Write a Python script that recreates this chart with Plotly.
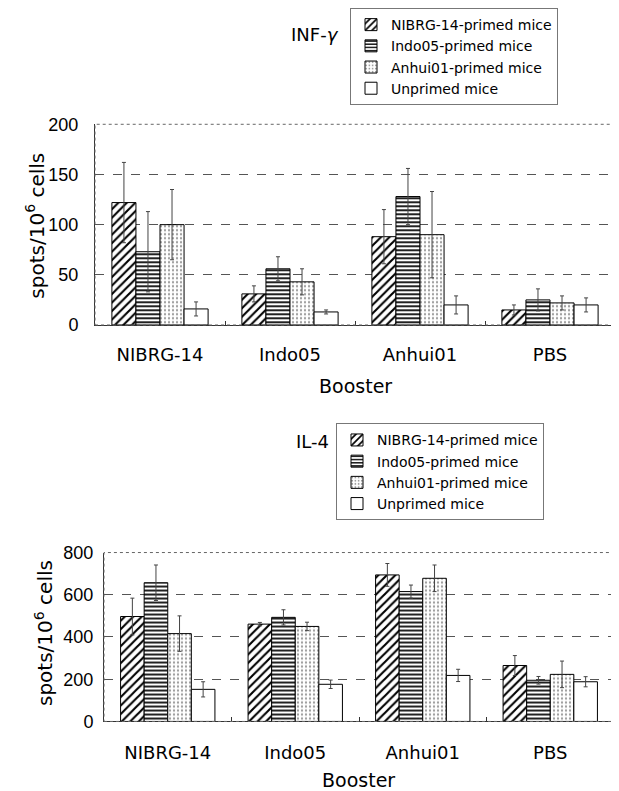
import plotly.graph_objects as go

boosters = ["NIBRG-14", "Indo05", "Anhui01", "PBS"]
series_names = ["NIBRG-14-primed mice", "Indo05-primed mice", "Anhui01-primed mice", "Unprimed mice"]

# INF-gamma (spots/10^6 cells)
ifn_nibrg = [122, 31, 88, 15]
ifn_indo = [73, 56, 128, 25]
ifn_anhui = [100, 43, 90, 22]
ifn_unprimed = [16, 13, 20, 20]
ifn_nibrg_err = [40, 8, 27, 5]
ifn_indo_err = [40, 12, 28, 11]
ifn_anhui_err = [35, 13, 43, 7]
ifn_unprimed_err = [7, 2, 9, 7]

# IL-4 (spots/10^6 cells)
il4_nibrg = [497, 461, 694, 265]
il4_indo = [657, 493, 615, 195]
il4_anhui = [416, 450, 678, 223]
il4_unprimed = [152, 176, 218, 188]
il4_nibrg_err = [87, 8, 54, 47]
il4_indo_err = [84, 36, 31, 18]
il4_anhui_err = [84, 20, 63, 63]
il4_unprimed_err = [36, 20, 29, 24]

ifn_ticks = [0, 50, 100, 150, 200]
il4_ticks = [0, 200, 400, 600, 800]

patterns = [
    dict(shape="/", fgcolor="black", bgcolor="white", size=6, solidity=0.35),
    dict(shape="-", fgcolor="#222222", bgcolor="white", size=4, solidity=0.5),
    dict(shape=".", fgcolor="#9a9a9a", bgcolor="white", size=4, solidity=0.25),
    dict(shape="", fgcolor="white", bgcolor="white"),
]

SANS = "Liberation Sans, Arial, sans-serif"
WIDE = "DejaVu Sans, sans-serif"
# page body has an 8px margin; the figure is placed at (8, 8) in the window
OFF = 8
W, H = 619 - OFF, 791 - OFF

def px_x(p):
    return (p - OFF) / W

def px_y(p):
    return 1 - (p - OFF) / H

fig = go.Figure()

ifn_vals = [ifn_nibrg, ifn_indo, ifn_anhui, ifn_unprimed]
ifn_errs = [ifn_nibrg_err, ifn_indo_err, ifn_anhui_err, ifn_unprimed_err]
il4_vals = [il4_nibrg, il4_indo, il4_anhui, il4_unprimed]
il4_errs = [il4_nibrg_err, il4_indo_err, il4_anhui_err, il4_unprimed_err]

for i, name in enumerate(series_names):
    fig.add_trace(go.Bar(
        x=boosters, y=ifn_vals[i], name=name, xaxis="x", yaxis="y",
        marker=dict(color="white", pattern=patterns[i], line=dict(color="black", width=1)),
        error_y=dict(type="data", array=ifn_errs[i], color="#444444", thickness=1, width=2),
        legend="legend",
    ))
for i, name in enumerate(series_names):
    fig.add_trace(go.Bar(
        x=boosters, y=il4_vals[i], name=name, xaxis="x2", yaxis="y2",
        marker=dict(color="white", pattern=patterns[i], line=dict(color="black", width=1)),
        error_y=dict(type="data", array=il4_errs[i], color="#444444", thickness=1, width=2),
        legend="legend2",
    ))

axis_common = dict(showline=True, linecolor="#333333", linewidth=1, zeroline=False, automargin=False)

fig.update_layout(
    template="none",
    width=W, height=H,
    margin=dict(l=0, r=0, t=0, b=0),
    paper_bgcolor="white", plot_bgcolor="white",
    font=dict(family=SANS, color="black"),
    barmode="group", bargap=0.26, bargroupgap=0,
    xaxis=dict(domain=[px_x(95), px_x(615)], anchor="y", ticks="inside", tickson="boundaries",
               ticklen=4, tickcolor="#333", showgrid=False, tickfont=dict(size=18, family=WIDE),
               ticklabelstandoff=13, **axis_common),
    yaxis=dict(domain=[px_y(322), px_y(120)], anchor="x", range=[0, 200], tickvals=ifn_ticks,
               ticks="", showgrid=True, gridcolor="#555555", griddash="dash", gridwidth=1,
               tickfont=dict(size=18), ticklabelstandoff=12, **axis_common),
    xaxis2=dict(domain=[px_x(104), px_x(614)], anchor="y2", ticks="inside", tickson="boundaries",
                ticklen=4, tickcolor="#333", showgrid=False, tickfont=dict(size=18, family=WIDE),
                ticklabelstandoff=15, **axis_common),
    yaxis2=dict(domain=[px_y(721), px_y(551)], anchor="x2", range=[0, 800], tickvals=il4_ticks,
                ticks="", showgrid=True, gridcolor="#555555", griddash="dash", gridwidth=1,
                tickfont=dict(size=18), ticklabelstandoff=6, **axis_common),
    legend=dict(x=px_x(350), y=px_y(3), xanchor="left", yanchor="top",
                bgcolor="white", bordercolor="#777777", borderwidth=1,
                font=dict(size=14, family=WIDE), itemwidth=30, tracegroupgap=0),
    legend2=dict(x=px_x(336), y=px_y(421), xanchor="left", yanchor="top",
                 bgcolor="white", bordercolor="#777777", borderwidth=1,
                 font=dict(size=14, family=WIDE), itemwidth=30, tracegroupgap=0),
    showlegend=True,
)

# dotted plot frames
for xr, yr in [("x domain", "y domain"), ("x2 domain", "y2 domain")]:
    fig.add_shape(type="rect", xref=xr, yref=yr, x0=0, x1=1, y0=0, y1=1,
                  line=dict(color="#666666", width=1, dash="dot"), layer="above")

ann = [
    dict(text="INF-<i>γ</i>", x=315, y=30, size=18),
    dict(text="IL-4", x=312, y=439, size=18),
    dict(text="Booster", x=355, y=383, size=19),
    dict(text="Booster", x=358, y=780, size=19),
]
for a in ann:
    fig.add_annotation(text=a["text"], x=px_x(a["x"]), y=px_y(a["y"]), xref="paper", yref="paper",
                       showarrow=False, font=dict(size=a["size"], family=WIDE),
                       xanchor="center", yanchor="middle")
fig.add_annotation(text="spots/10<sup>6</sup> cells", x=px_x(35), y=px_y(222), xref="paper", yref="paper",
                   showarrow=False, textangle=-90, font=dict(size=20, family=WIDE),
                   xanchor="center", yanchor="middle")
fig.add_annotation(text="spots/10<sup>6</sup> cells", x=px_x(44), y=px_y(632), xref="paper", yref="paper",
                   showarrow=False, textangle=-90, font=dict(size=20, family=WIDE),
                   xanchor="center", yanchor="middle")

fig.write_html("out.html")
